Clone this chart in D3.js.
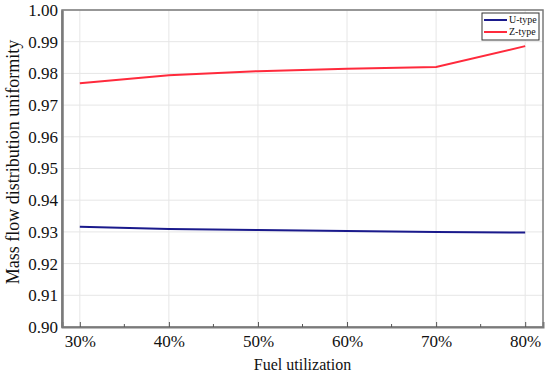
<!DOCTYPE html>
<meta charset="utf-8">
<style>
  body { margin: 0; background: #fff; }
  svg text { font-family: "Liberation Serif", "Times New Roman", serif; fill: #111; }
  .grid line { stroke: #e6e6e6; stroke-width: 1; }
</style>
<svg width="550" height="377"></svg>
<script src="https://d3js.org/d3.v7.min.js"></script>
<script>
  // fuel utilization (%)
  var fuel = [30, 40, 50, 60, 70, 80];
  var uType = [0.9316, 0.9309, 0.9306, 0.9303, 0.9300, 0.9298];
  var zType = [0.9769, 0.9794, 0.9807, 0.9815, 0.9820, 0.9886];
  var yTicks = [0.90, 0.91, 0.92, 0.93, 0.94, 0.95, 0.96, 0.97, 0.98, 0.99, 1.00];

  var serif = "'Liberation Serif', 'Times New Roman', serif";
  var svg = d3.select("svg");
  var pLeft = 62, pTop = 10, pRight = 543, pBottom = 327;

  var x = d3.scaleLinear().domain([28, 82]).range([pLeft, pRight]);
  var y = d3.scaleLinear().domain([0.90, 1.00]).range([pBottom, pTop]);

  // grid
  var grid = svg.append("g").attr("class", "grid");
  grid.selectAll(".gx").data(fuel).enter().append("line")
    .attr("x1", function (d) { return x(d); }).attr("x2", function (d) { return x(d); })
    .attr("y1", pTop).attr("y2", pBottom);
  grid.selectAll(".gy").data(yTicks).enter().append("line")
    .attr("x1", pLeft).attr("x2", pRight)
    .attr("y1", function (d) { return y(d); }).attr("y2", function (d) { return y(d); });

  // frame
  svg.append("rect").attr("x", pLeft).attr("y", pTop)
    .attr("width", pRight - pLeft).attr("height", pBottom - pTop)
    .attr("fill", "none").attr("stroke", "#7a7a7a").attr("stroke-width", 1.5);

  // bottom axis
  var xAxis = d3.axisBottom(x).tickValues(fuel).tickSize(-5).tickPadding(8)
    .tickFormat(function (d) { return d + "%"; });
  var gx = svg.append("g").attr("transform", "translate(0," + pBottom + ")").call(xAxis)
    .attr("font-family", null);
  gx.select(".domain").attr("stroke", "#7a7a7a").attr("stroke-width", 2);
  gx.selectAll(".tick line").attr("stroke", "#555");
  gx.selectAll("text").style("font-family", serif).style("font-size", "17px").attr("fill", "#111");
  // minor ticks
  var minor = fuel.slice(0, -1).map(function (d) { return d + 5; });
  svg.append("g").selectAll("line").data(minor).enter().append("line")
    .attr("x1", function (d) { return x(d); }).attr("x2", function (d) { return x(d); })
    .attr("y1", pBottom).attr("y2", pBottom - 3).attr("stroke", "#555");

  // left axis
  var yAxis = d3.axisLeft(y).tickValues(yTicks).tickSize(0).tickPadding(4)
    .tickFormat(d3.format(".2f"));
  var gy = svg.append("g").attr("transform", "translate(" + pLeft + ",0)").call(yAxis)
    .attr("font-family", null);
  gy.select(".domain").attr("stroke", "#7a7a7a").attr("stroke-width", 2.5);
  gy.selectAll("text").style("font-family", serif).style("font-size", "17px").attr("fill", "#111");

  // lines
  var line = d3.line().x(function (d) { return x(d[0]); }).y(function (d) { return y(d[1]); });
  svg.append("path").datum(d3.zip(fuel, uType)).attr("d", line)
    .attr("fill", "none").attr("stroke", "#1a1a8c").attr("stroke-width", 2);
  svg.append("path").datum(d3.zip(fuel, zType)).attr("d", line)
    .attr("fill", "none").attr("stroke", "#ff2a3c").attr("stroke-width", 2);

  // axis titles
  svg.append("text").attr("x", (pLeft + pRight) / 2).attr("y", 370)
    .attr("text-anchor", "middle").style("font-size", "16px").text("Fuel utilization");
  svg.append("text").attr("transform", "translate(19,162) rotate(-90)")
    .attr("text-anchor", "middle").style("font-size", "18px").text("Mass flow distribution uniformity");

  // legend
  var legend = svg.append("g").attr("transform", "translate(482,13)");
  legend.append("rect").attr("width", 57).attr("height", 27)
    .attr("fill", "#fff").attr("stroke", "#333").attr("stroke-width", 1);
  var items = [["U-type", "#1a1a8c"], ["Z-type", "#ff2a3c"]];
  items.forEach(function (it, i) {
    legend.append("line").attr("x1", 2).attr("x2", 25)
      .attr("y1", 7 + i * 12).attr("y2", 7 + i * 12)
      .attr("stroke", it[1]).attr("stroke-width", 2);
    legend.append("text").attr("x", 27).attr("y", 10 + i * 12)
      .style("font-size", "10px").text(it[0]);
  });
</script>
